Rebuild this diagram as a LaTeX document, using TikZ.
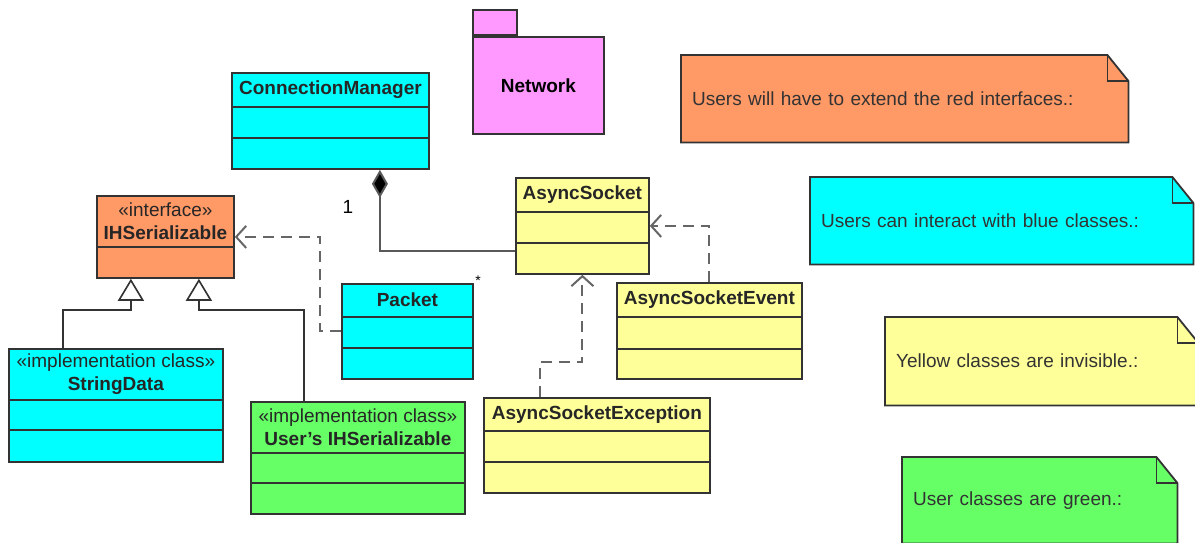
\documentclass[tikz,border=0pt]{standalone}
\usepackage{fontspec}
\setmainfont{Liberation Sans}
\usetikzlibrary{positioning,arrows.meta,backgrounds}

\definecolor{umlblue}{HTML}{00FFFF}
\definecolor{umlorange}{HTML}{FF9966}
\definecolor{umlyellow}{HTML}{FFFF99}
\definecolor{umlgreen}{HTML}{66FF66}
\definecolor{umlpink}{HTML}{FF99FF}
\definecolor{umlline}{HTML}{333333}

\tikzset{
  classbox/.style={draw=umlline, line width=1.8pt, inner sep=0pt, anchor=north west},
  classtitle/.style={anchor=north, inner sep=0pt, align=center, text=black!85},
  notebox/.style={inner xsep=11pt, inner ysep=0pt, anchor=north west, align=left, text=black!80},
  gen/.style={draw=umlline, line width=1.6pt, -{Triangle[open, length=22pt, width=26pt, fill=white]}},
  dep/.style={draw=black!60, line width=2pt, dash pattern=on 11pt off 7pt, -{Straight Barb[length=10pt, width=22pt]}},
  comp/.style={draw=black!65, line width=2pt, -{Diamond[length=28pt, width=16pt, fill=black]}}
}

\begin{document}
\begin{tikzpicture}[x=1pt, y=-1pt, font=\fontsize{19}{23}\selectfont]
        \useasboundingbox (0,0) rectangle (1195,542);
        \clip (0,0) rectangle (1195,542);
        % Package
        \node[classbox, fill=umlpink, minimum width=131pt, minimum height=97pt] (network) at (472,36) {\textbf{Network}};
        \node[classbox, fill=umlpink, minimum width=44pt, minimum height=25pt, anchor=south west] (networkTab) at (network.north west) {};
        % Classes
        \foreach \cls/\x/\y/\w/\bh/\hh/\lineb/\col/\cname in {
            conn/231/72/197/96/35/66/umlblue/{\textbf{ConnectionManager}},
            iface/96/195/137/82/52/0/umlorange/{«interface»\\\textbf{IHSerializable}},
            strdata/8/348/214/113/52/82/umlblue/{«implementation class»\\\textbf{StringData}},
            userimpl/250/401/214/112/52/82/umlgreen/{«implementation class»\\\textbf{User's IHSerializable}},
            packet/341/283/131/95/34/65/umlblue/{\textbf{Packet}},
            asock/515/177/133/96/35/66/umlyellow/{\textbf{AsyncSocket}},
            aevent/616/282/185/96/35/67/umlyellow/{\textbf{AsyncSocketEvent}},
            aexc/483/397/226/95/34/65/umlyellow/{\textbf{AsyncSocketException}}}
        {
            \node[classbox, fill=\col, minimum width=\w pt, minimum height=\bh pt] (\cls) at (\x,\y) {};
            \node[classtitle, minimum height=\hh pt] (\cls Title) at (\cls.north) {\cname};
            \draw[umlline, line width=1.8pt] (\cls.north west) ++(0,\hh) -- ++(\w,0);
            \ifnum\lineb>0
                \draw[umlline, line width=1.8pt] (\cls.north west) ++(0,\lineb) -- ++(\w,0);
            \fi
        }
        % Notes
        \node[notebox, text width=425pt, minimum height=87pt] (redNote) at (681,55) {Users will have to extend the red interfaces.:};
        \node[notebox, text width=361pt, minimum height=87pt] (blueNote) at (810,177) {Users can interact with blue classes.:};
        \node[notebox, text width=291pt, minimum height=88pt] (yellowNote) at (885,317) {Yellow classes are invisible.:};
        \node[notebox, text width=253pt, minimum height=86pt] (greenNote) at (902,457) {User classes are green.:};
        \begin{scope}[on background layer]
            \foreach \n/\c in {redNote/umlorange, blueNote/umlblue, yellowNote/umlyellow, greenNote/umlgreen}
                \draw[umlline, line width=1.8pt, fill=\c] (\n.south west) -- (\n.north west) -- ([xshift=-21pt]\n.north east)
                    -- ([yshift=-26pt]\n.north east) -- (\n.south east) -- cycle;
        \end{scope}
        \foreach \n in {redNote, blueNote, yellowNote, greenNote}
            \draw[umlline, line width=1.8pt] ([xshift=-21pt]\n.north east) -- ([xshift=-21pt, yshift=-26pt]\n.north east) -- ([yshift=-26pt]\n.north east);
        % Relations
        \draw[comp] ([yshift=-25pt]asock.west) -| ([xshift=49.5pt]conn.south);
        \node (multOne) at (348,207) {1};
        \node[font=\fontsize{14}{16}\selectfont] (multMany) at (478,281) {*};
        \draw[gen] ([xshift=-53pt]strdata.north) -- ++(0,-38) -| ([xshift=-34.5pt]iface.south);
        \draw[gen] ([xshift=-54pt]userimpl.north) -- ++(0,-91) -| ([xshift=33.5pt]iface.south);
        \draw[dep] (packet.west) -- ++(-21,0) |- (iface.east);
        \draw[dep] (aevent.north) |- (asock.east);
        \draw[dep] ([xshift=-57pt]aexc.north) -- ++(0,-35) -| (asock.south);
\end{tikzpicture}
\end{document}
